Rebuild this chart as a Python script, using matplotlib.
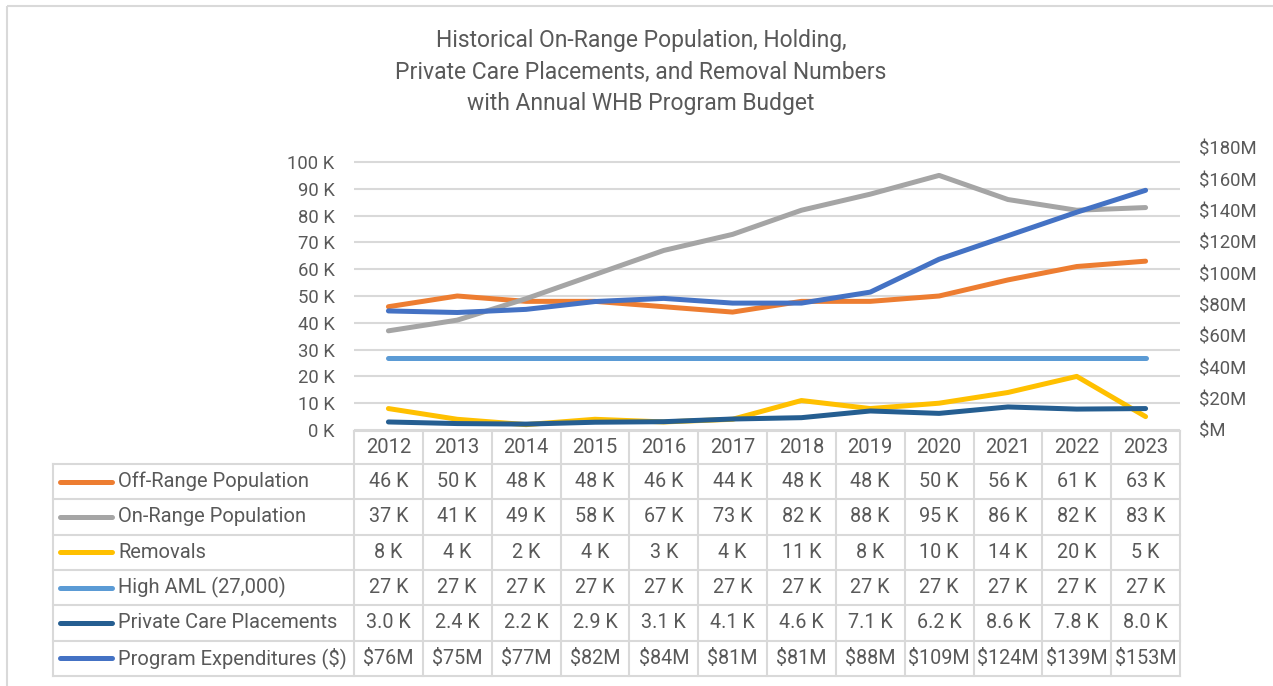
import matplotlib.pyplot as plt
from matplotlib.patches import Rectangle
from matplotlib.ticker import FuncFormatter

# ----
# Data (populations in thousands, expenditures in $M)
# ----
years = [2012, 2013, 2014, 2015, 2016, 2017, 2018, 2019, 2020, 2021, 2022, 2023]
off_range = [46, 50, 48, 48, 46, 44, 48, 48, 50, 56, 61, 63]
on_range = [37, 41, 49, 58, 67, 73, 82, 88, 95, 86, 82, 83]
removals = [8, 4, 2, 4, 3, 4, 11, 8, 10, 14, 20, 5]
high_aml = [27, 27, 27, 27, 27, 27, 27, 27, 27, 27, 27, 27]
private_care = [3.0, 2.4, 2.2, 2.9, 3.1, 4.1, 4.6, 7.1, 6.2, 8.6, 7.8, 8.0]
expenditures = [76, 75, 77, 82, 84, 81, 81, 88, 109, 124, 139, 153]

series_names = ["Off-Range Population", "On-Range Population", "Removals",
                "High AML (27,000)", "Private Care Placements",
                "Program Expenditures ($)"]
series_colors = ["#ED7D31", "#A5A5A5", "#FFC000", "#5B9BD5", "#255E91", "#4472C4"]

W, H = 1273, 686
TXT = "#595959"
GRID = "#D9D9D9"
plt.rcParams['font.family'] = ['Roboto', 'DejaVu Sans']
plt.rcParams['font.size'] = 13

fig = plt.figure(figsize=(W / 100, H / 100), dpi=100)

# ----
# Line chart
# ----
px_l, px_r, px_t, px_b = 354, 1180, 148, 430
ax = fig.add_axes([px_l / W, 1 - px_b / H, (px_r - px_l) / W, (px_b - px_t) / H])
x = list(range(len(years)))

pop_series = [off_range, on_range, removals, high_aml, private_care]
for vals, c in zip(pop_series, series_colors[:5]):
    ax.plot(x, vals, color=c, lw=3.6, solid_capstyle="round", zorder=3)

ax.set_xlim(-0.5, len(years) - 0.5)
ax.set_ylim(0, 100 * 282 / 268)
ax.set_yticks(range(0, 101, 10))
ax.yaxis.set_major_formatter(FuncFormatter(lambda v, p: f"{v:.0f} K"))
ax.set_xticks([])
ax.grid(axis="y", color=GRID, lw=1.5, zorder=0)
ax.tick_params(axis="y", length=0, pad=14, colors=TXT, labelsize=13.3)
for s in ax.spines.values():
    s.set_visible(False)

ax2 = ax.twinx()
ax2.plot(x, expenditures, color=series_colors[5], lw=3.6, solid_capstyle="round", zorder=3)
ax2.set_ylim(0, 180)
ax2.set_yticks(range(0, 181, 20))
ax2.yaxis.set_major_formatter(FuncFormatter(lambda v, p: "$M" if v == 0 else f"${v:.0f}M"))
ax2.tick_params(axis="y", length=0, pad=14, colors=TXT, labelsize=13.3)
for s in ax2.spines.values():
    s.set_visible(False)

fig.text(641 / W, 1 - 72 / H,
         "Historical On-Range Population, Holding,\n"
         "Private Care Placements, and Removal Numbers\n"
         "with Annual WHB Program Budget",
         ha="center", va="center", fontsize=16.5, color=TXT, linespacing=1.45)

# ----
# Data table (overlay in pixel coordinates)
# ----
tax = fig.add_axes([0, 0, 1, 1], zorder=-1)
tax.set_xlim(0, W)
tax.set_ylim(H, 0)
tax.axis("off")

# column centers taken from the chart's x scale
to_px = ax.transData.transform
centers = [to_px((i, 0))[0] for i in x]
colw = centers[1] - centers[0]
col_edges = [c - colw / 2 for c in centers] + [centers[-1] + colw / 2]

tbl_left = 53
hdr_top, hdr_bot = 431, 464
row_h = 35.3
row_edges = [hdr_bot + i * row_h for i in range(len(series_names) + 1)]

# grid lines
tax.plot([col_edges[0], col_edges[-1]], [hdr_top, hdr_top], color=GRID, lw=1.5)
for ye in row_edges:
    tax.plot([tbl_left, col_edges[-1]], [ye, ye], color=GRID, lw=1.5)
for xe in col_edges:
    tax.plot([xe, xe], [hdr_top, row_edges[-1]], color=GRID, lw=1.5)
tax.plot([tbl_left, tbl_left], [hdr_bot, row_edges[-1]], color=GRID, lw=1.5)

for c, yr in zip(centers, years):
    tax.text(c, (hdr_top + hdr_bot) / 2, str(yr), ha="center", va="center", color=TXT, fontsize=14.5)

all_vals = pop_series + [expenditures]
fmts = [lambda v: f"{v:.0f} K"] * 4 + [lambda v: f"{v:.1f} K", lambda v: f"${v:.0f}M"]
for r, (name, col, vals, fmt) in enumerate(zip(series_names, series_colors, all_vals, fmts)):
    yc = (row_edges[r] + row_edges[r + 1]) / 2
    tax.plot([60, 112], [yc, yc], color=col, lw=3.6, solid_capstyle="round")
    tax.text(118, yc, name, ha="left", va="center", color=TXT, fontsize=14.5)
    for c, v in zip(centers, vals):
        tax.text(c, yc, fmt(v), ha="center", va="center", color=TXT, fontsize=14.2)

# outer chart border
tax.add_patch(Rectangle((7, 6), W + 10, H + 10, fill=False, edgecolor=GRID, lw=1.5))

fig.savefig("out.png", dpi=100)
